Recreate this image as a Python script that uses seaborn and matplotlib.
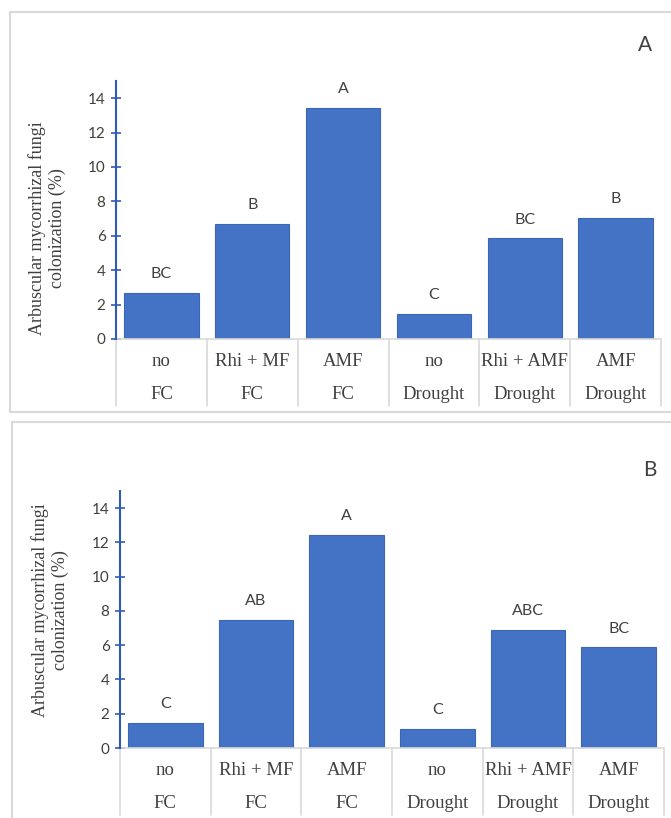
import matplotlib.pyplot as plt
import matplotlib.transforms as mtransforms
from matplotlib.patches import Rectangle
import pandas as pd
import seaborn as sns

# data
treatments = ['no', 'Rhi + MF', 'AMF', 'no', 'Rhi + AMF', 'AMF']
conditions = ['FC', 'FC', 'FC', 'Drought', 'Drought', 'Drought']
colonization_a = [2.67, 6.7, 13.45, 1.45, 5.85, 7.05]
letters_a = ['BC', 'B', 'A', 'C', 'BC', 'B']
colonization_b = [1.45, 7.5, 12.45, 1.13, 6.88, 5.87]
letters_b = ['C', 'AB', 'A', 'C', 'ABC', 'BC']
yticks = [0, 2, 4, 6, 8, 10, 12, 14]
ylabel = 'Arbuscular mycorrhizal fungi\ncolonization (%)'

sns.set_style('white')
plt.rcParams['font.family'] = ['Lato', 'DejaVu Sans']

BAR = '#4472C4'
AXIS = '#2F5BB7'
GRID = '#D9D9D9'
TXT = '#404040'

fig = plt.figure(figsize=(6.71, 8.18), dpi=100)

# panel frames (figure pixel coords -> fraction)
W, H = 671, 818
for (x0, y0, x1, y1) in [(10, 12, 672, 412), (12, 422, 672, 820)]:
    fig.patches.append(Rectangle((x0 / W, 1 - y1 / H), (x1 - x0) / W, (y1 - y0) / H,
                                 transform=fig.transFigure, fill=False,
                                 edgecolor=GRID, linewidth=1.5, clip_on=False))


def panel(rect, values, letters, tag, tag_xy, label_xy):
    ax = fig.add_axes(rect)
    df = pd.DataFrame({'group': [f'{t}|{c}|{i}' for i, (t, c) in enumerate(zip(treatments, conditions))],
                       'value': values})
    sns.barplot(data=df, x='group', y='value', ax=ax, color=BAR, saturation=1,
                width=0.82, edgecolor='#3A66B8', linewidth=0.8)
    ax.set_xlim(-0.5, len(values) - 0.5)
    ax.set_ylim(0, 15)
    ax.set_yticks(yticks)
    ax.set_xticks([])
    ax.set_xlabel('')
    ax.set_ylabel(ylabel, family=['Liberation Serif'], fontsize=13, color=TXT, linespacing=1.2)
    ax.yaxis.set_label_coords(*label_xy)
    for s in ['top', 'right', 'bottom']:
        ax.spines[s].set_visible(False)
    ax.spines['left'].set_color(AXIS)
    ax.spines['left'].set_linewidth(1.5)
    ax.tick_params(axis='y', direction='inout', length=7, width=1.2, color=AXIS,
                   labelsize=11, labelcolor=TXT, pad=4, left=True)

    # significance letters
    for i, (v, l) in enumerate(zip(values, letters)):
        ax.annotate(l, (i, v), xytext=(0, 13.5), textcoords='offset points',
                    ha='center', va='center', fontsize=11.5, color=TXT)

    # category table below the axis
    tr = mtransforms.blended_transform_factory(ax.transData, ax.transAxes)
    ax.plot([-0.5, len(values) - 0.5], [0, 0], transform=tr, color=GRID, lw=1.2, clip_on=False)
    for b in range(len(values) + 1):
        ax.plot([b - 0.5, b - 0.5], [0, -0.26], transform=tr, color=GRID, lw=1.2, clip_on=False)
    for i, (t, c) in enumerate(zip(treatments, conditions)):
        ax.text(i, -0.087, t, transform=tr, ha='center', va='center', fontsize=13.5,
                family=['Liberation Serif'], color=TXT)
        ax.text(i, -0.215, c, transform=tr, ha='center', va='center', fontsize=13.5,
                family=['Liberation Serif'], color=TXT)

    fig.text(tag_xy[0] / W, 1 - tag_xy[1] / H, tag, ha='center', va='center',
             fontsize=15, color=TXT)
    return ax


panel([116 / W, 1 - 339 / H, 545 / W, 258 / H], colonization_a, letters_a, 'A', (645, 45), (-0.092, 0.43))
panel([120 / W, 1 - 748 / H, 544 / W, 257 / H], colonization_b, letters_b, 'B', (650, 470), (-0.094, 0.537))

fig.savefig('out.png', dpi=100, facecolor='white')
